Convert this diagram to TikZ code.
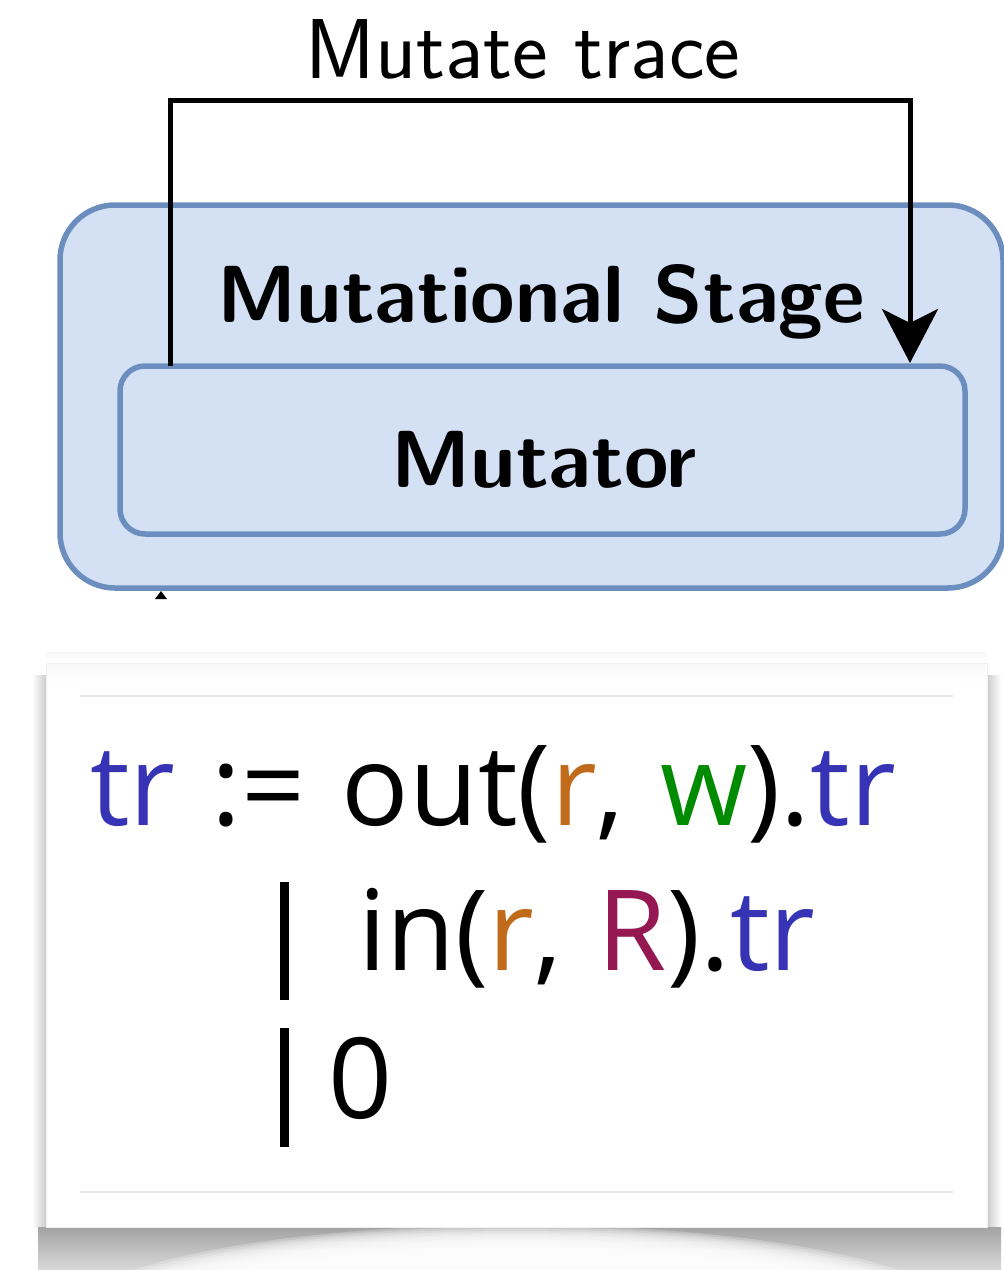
\documentclass[tikz,border=0pt]{standalone}
\usepackage{fontspec}
\newfontfamily\codefont[WordSpace=1.25]{Open Sans}
\usetikzlibrary{arrows.meta}
\definecolor{stagefill}{HTML}{D4E1F5}
\definecolor{stageline}{HTML}{6C8EBF}
\definecolor{trblue}{HTML}{3633B5}
\definecolor{rorange}{HTML}{C06A1A}
\definecolor{wgreen}{HTML}{008B00}
\definecolor{Rmaroon}{HTML}{951853}
\definecolor{rulegray}{HTML}{E8E8E8}
\newcommand{\tr}{\textcolor{trblue}{tr}}
\newcommand{\chr}{\textcolor{rorange}{r}}
\begin{document}
\begin{tikzpicture}[x=1pt,y=-1pt,
  stagebox/.style={draw=stageline, fill=stagefill, line width=5.5pt,
    rounded corners=#1, inner sep=0, outer sep=0},
  flow/.style={line width=5pt,
    -{Stealth[length=54pt,width=56pt,inset=14pt]}},
  title/.style={font=\fontsize{85}{100}\selectfont\sffamily, inner sep=0, anchor=base},
  boldtitle/.style={font=\fontsize{81}{96}\selectfont\sffamily\bfseries, inner sep=0, anchor=base},
  codeline/.style={font=\fontsize{112}{130}\selectfont\codefont, inner sep=0, anchor=base west},
  bar/.style={fill=black, inner sep=0, minimum width=9pt},
]
\useasboundingbox (0,0) rectangle (1004,1270);
\fill[white] (0,0) rectangle (1004,1270);
\begin{scope}
\clip (0,0) rectangle (1004,1270);

% stage container and the mutator inside it
\node[stagebox=55pt, minimum width=943pt, minimum height=383pt] (stage) at (531.5,396.5) {};
\node[stagebox=25pt, minimum width=845pt, minimum height=168pt] (mutator) at (542.5,450) {};
\node[boldtitle] (stagelbl) at (541,322) {Mutational Stage};
\node[boldtitle] (mutlbl) at (544,487) {Mutator};

% feedback loop over the stage
\draw[flow] ([xshift=50pt]mutator.north west) -- ++(0,-266)
  -| ([xshift=-55pt,yshift=3pt]mutator.north east);
\node[title] (looplbl) at (523,78) {Mutate trace};

% arrow tip peeking out under the stage
\coordinate (stub) at (161,599);
\fill (stub) ++(-6,0) -- ++(6,-8) -- ++(6,8) -- cycle;

% soft shadow around the code card
\shade[left color=white, right color=gray!40] (32,675) rectangle (46,1227);
\shade[left color=gray!40, right color=white] (987,675) rectangle (1001,1227);
\shade[top color=gray!6, bottom color=white] (46,652) rectangle (987,663);
\begin{scope}
  \clip (38,1227) rectangle (1001,1270);
  \shade[top color=gray!72, bottom color=gray!30] (38,1227) rectangle (1001,1270);
  % lifted-paper highlight: stacked translucent ellipses give a soft edge
  \foreach \k in {0,...,11}
    \fill[white, opacity=0.25] (516,1320) ellipse [x radius={450-8*\k}, y radius={95-2*\k}];
\end{scope}

% code card
\node[fill=white, draw=gray!12, line width=0.8pt, inner sep=0, outer sep=0,
  minimum width=941pt, minimum height=564pt] (card) at (516.5,945) {};
\shade[top color=gray!5, bottom color=white] (47,664) rectangle (986,684);
\draw[rulegray, line width=1.5pt] (80,696) -- (953,696);
\draw[rulegray, line width=1.5pt] (80,1192) -- (953,1192);

\node[codeline] (l1) at (90,825)
  {\tr{} := out(\chr, \textcolor{wgreen}{w}).\tr};
\node[bar, minimum height=118pt, anchor=north] (b2) at (284,882) {};
\node[codeline] (l2) at (358,970)
  {in(\chr, \textcolor{Rmaroon}{R}).\tr};
\node[bar, minimum height=119pt, anchor=north] (b3) at (284,1028) {};
\node[codeline] (l3) at (328,1118) {0};
\end{scope}
\end{tikzpicture}
\end{document}
